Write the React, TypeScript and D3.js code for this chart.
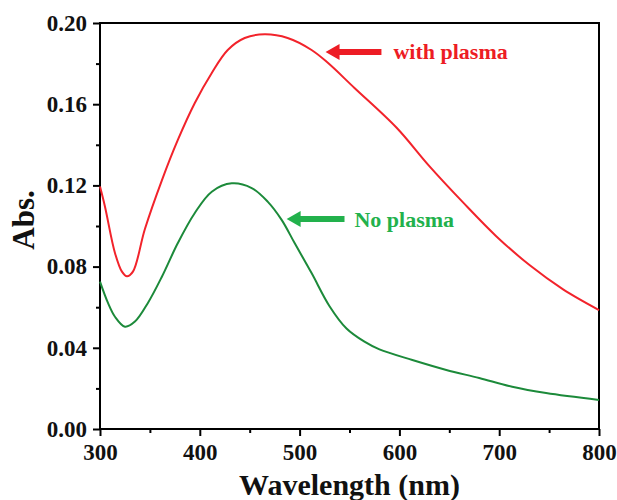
import React from 'react';
import * as d3 from 'd3';

// wavelength (nm) of the sampled points
const withWave = [300, 305, 315, 322, 327, 333, 345, 362, 378, 395, 412, 428, 445, 465, 488, 512, 528, 555, 597, 630, 664, 697, 731, 764, 800];
// absorbance, with plasma
const withAbs = [0.1194, 0.1095, 0.0867, 0.0775, 0.0752, 0.0775, 0.0985, 0.1225, 0.1424, 0.1606, 0.1754, 0.1867, 0.1926, 0.1944, 0.1926, 0.1867, 0.1805, 0.168, 0.1485, 0.1295, 0.1115, 0.095, 0.0805, 0.0688, 0.0586];

const noWave = [300, 308, 315, 325, 335, 348, 362, 378, 395, 412, 432, 452, 468, 482, 495, 512, 530, 547, 565, 580, 613, 647, 680, 713, 747, 800];
// absorbance, no plasma
const noAbs = [0.0726, 0.0621, 0.0553, 0.0504, 0.0529, 0.0621, 0.075, 0.0916, 0.1064, 0.1169, 0.121, 0.1187, 0.112, 0.103, 0.0916, 0.0768, 0.0605, 0.0495, 0.043, 0.0392, 0.034, 0.0291, 0.0251, 0.0208, 0.0177, 0.0143];

const yTicks = [0, 0.04, 0.08, 0.12, 0.16, 0.2];
const xTicks = [300, 400, 500, 600, 700, 800];

export default class App extends React.Component {
    svgRef = React.createRef<SVGSVGElement>();

    componentDidMount() {
        this._setupD3();
    }
    componentDidUpdate() {
        this._setupD3();
    }

    render() {
        return (
            <div style={{ position: 'absolute', left: 0, top: 0 }}>
                <svg ref={this.svgRef} width={617} height={500} style={{ display: 'block' }} />
            </div>
        );
    }

    _setupD3 = () => {
        const width = 617,
            height = 500,
            margin = { top: 23, right: 18, bottom: 71, left: 100 },
            font = '"Liberation Serif", "Times New Roman", serif',
            x = d3.scaleLinear().domain([300, 800]).range([margin.left, width - margin.right]),
            y = d3.scaleLinear().domain([0, 0.2]).range([height - margin.bottom, margin.top]);

        const svg = d3.select(this.svgRef.current);
        svg.selectAll('*').remove();
        svg.append('rect').attr('width', width).attr('height', height).attr('fill', '#fff');

        // minor ticks
        svg.append('g')
            .attr('transform', `translate(0,${y(0)})`)
            .call(d3.axisBottom(x).tickValues([350, 450, 550, 650, 750]).tickSize(4).tickSizeOuter(0).tickFormat(() => ''))
            .call(g => g.select('.domain').remove())
            .call(g => g.selectAll('line').attr('stroke-width', 2));
        svg.append('g')
            .attr('transform', `translate(${x(300)},0)`)
            .call(d3.axisLeft(y).tickValues([0.02, 0.06, 0.1, 0.14, 0.18]).tickSize(4).tickSizeOuter(0).tickFormat(() => ''))
            .call(g => g.select('.domain').remove())
            .call(g => g.selectAll('line').attr('stroke-width', 2));

        // major ticks + labels
        svg.append('g')
            .attr('transform', `translate(0,${y(0)})`)
            .call(d3.axisBottom(x).tickValues(xTicks).tickSize(7).tickSizeOuter(0).tickPadding(8).tickFormat(d3.format('d')))
            .call(g => g.select('.domain').remove())
            .call(g => g.selectAll('line').attr('stroke-width', 2))
            .call(g => g.selectAll('text').attr('font-family', font).attr('font-weight', 'bold').attr('font-size', 23).attr('fill', '#111'));
        svg.append('g')
            .attr('transform', `translate(${x(300)},0)`)
            .call(d3.axisLeft(y).tickValues(yTicks).tickSize(7).tickSizeOuter(0).tickPadding(6).tickFormat(d3.format('.2f')))
            .call(g => g.select('.domain').remove())
            .call(g => g.selectAll('line').attr('stroke-width', 2))
            .call(g => g.selectAll('text').attr('font-family', font).attr('font-weight', 'bold').attr('font-size', 23).attr('fill', '#111'));

        // frame
        svg.append('rect')
            .attr('x', x(300)).attr('y', y(0.2))
            .attr('width', x(800) - x(300)).attr('height', y(0) - y(0.2))
            .attr('fill', 'none').attr('stroke', '#000').attr('stroke-width', 2);

        const line = d3.line<[number, number]>()
            .x(d => x(d[0]))
            .y(d => y(d[1]))
            .curve(d3.curveCatmullRom.alpha(0.5));

        svg.append('path')
            .datum(noWave.map((w, i) => [w, noAbs[i]] as [number, number]))
            .attr('d', line)
            .attr('fill', 'none').attr('stroke', '#1c8a3a').attr('stroke-width', 2);
        svg.append('path')
            .datum(withWave.map((w, i) => [w, withAbs[i]] as [number, number]))
            .attr('d', line)
            .attr('fill', 'none').attr('stroke', '#f2232b').attr('stroke-width', 2);

        // annotations: arrow pointing left to the curve, then label
        const arrow = (tipX: number, tailX: number, cy: number, color: string) => {
            const head = 14, hh = 8, sh = 3;
            svg.append('path')
                .attr('d', `M${tipX},${cy} L${tipX + head},${cy - hh} L${tipX + head},${cy - sh} L${tailX},${cy - sh} L${tailX},${cy + sh} L${tipX + head},${cy + sh} L${tipX + head},${cy + hh} Z`)
                .attr('fill', color);
        };
        arrow(x(526), x(582), y(0.1857), '#ed1c24');
        svg.append('text')
            .attr('x', x(594)).attr('y', y(0.1857) + 7)
            .attr('font-family', font).attr('font-weight', 'bold').attr('font-size', 22)
            .attr('fill', '#ed1c24')
            .text('with plasma');

        arrow(x(487), x(545), y(0.1034), '#22b14c');
        svg.append('text')
            .attr('x', x(555)).attr('y', y(0.1034) + 8)
            .attr('font-family', font).attr('font-weight', 'bold').attr('font-size', 22)
            .attr('fill', '#22b14c')
            .text('No plasma');

        // axis titles
        svg.append('text')
            .attr('x', (x(300) + x(800)) / 2).attr('y', 495)
            .attr('text-anchor', 'middle')
            .attr('font-family', font).attr('font-weight', 'bold').attr('font-size', 30)
            .attr('fill', '#111')
            .text('Wavelength (nm)');
        svg.append('text')
            .attr('transform', `translate(34,${(y(0) + y(0.2)) / 2 - 6}) rotate(-90)`)
            .attr('text-anchor', 'middle')
            .attr('font-family', font).attr('font-weight', 'bold').attr('font-size', 31)
            .attr('fill', '#111')
            .text('Abs.');
    }
}
